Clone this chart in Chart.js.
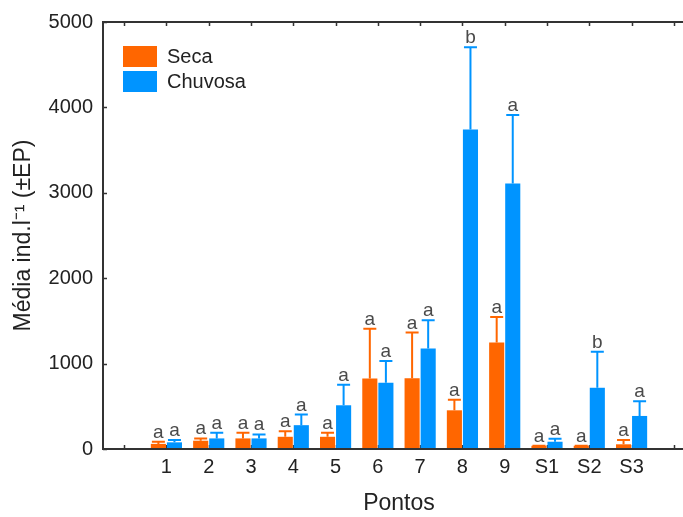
<!DOCTYPE html>
<html>
<head>
<meta charset="utf-8">
<script src="https://cdn.jsdelivr.net/npm/chart.js@4.4.1/dist/chart.umd.min.js"></script>
<style>
  html, body { margin: 0; padding: 0; background: #fff; overflow: hidden; }
  #wrap { width: 700px; height: 517px; }
</style>
</head>
<body>
<div id="wrap"><canvas id="pontos-chart"></canvas></div>
<script>
// sampling points (empty slots at both ends, as in the original plot)
const pontos = ['', '1', '2', '3', '4', '5', '6', '7', '8', '9', 'S1', 'S2', 'S3', ''];

// mean ind.l-1 per point
const secaMedia    = [null, 60, 97, 124, 143, 143, 826, 829, 453, 1248, 38, 38, 55, null];
const chuvosaMedia = [null, 78, 124, 124, 279, 512, 775, 1178, 3740, 3108, 85, 717, 387, null];

// standard error (upper bar only)
const secaEP    = [null, 25, 27, 66, 66, 47, 581, 535, 125, 299, 0, 0, 50, null];
const chuvosaEP = [null, 27, 66, 47, 124, 240, 256, 330, 965, 802, 35, 423, 171, null];

// significance letters
const secaLetras    = ['', 'a', 'a', 'a', 'a', 'a', 'a', 'a', 'a', 'a', 'a', 'a', 'a', ''];
const chuvosaLetras = ['', 'a', 'a', 'a', 'a', 'a', 'a', 'a', 'b', 'a', 'a', 'b', 'a', ''];

const yTicks = [0, 1000, 2000, 3000, 4000, 5000];

const ORANGE = '#ff6600';
const BLUE = '#0094ff';
const AXIS = '#333333';
const FONT = "'Liberation Sans', Arial, sans-serif";

const errors = [secaEP, chuvosaEP];
const letters = [secaLetras, chuvosaLetras];

// error bars + letters above each bar
const errorBarPlugin = {
  id: 'errorBars',
  afterDatasetsDraw(chart) {
    const ctx = chart.ctx;
    const yScale = chart.scales.y;
    ctx.save();
    chart.data.datasets.forEach(function (ds, i) {
      const meta = chart.getDatasetMeta(i);
      meta.data.forEach(function (bar, j) {
        const v = ds.data[j];
        if (v === null || v === undefined) return;
        const yTop = yScale.getPixelForValue(v + errors[i][j]);
        ctx.strokeStyle = ds.backgroundColor;
        ctx.lineWidth = 2;
        ctx.beginPath();
        ctx.moveTo(bar.x, bar.y);
        ctx.lineTo(bar.x, yTop);
        ctx.moveTo(bar.x - 6.5, yTop);
        ctx.lineTo(bar.x + 6.5, yTop);
        ctx.stroke();

        ctx.fillStyle = '#4a4a4a';
        ctx.font = '19px ' + FONT;
        ctx.textAlign = 'center';
        ctx.textBaseline = 'alphabetic';
        ctx.fillText(letters[i][j], bar.x, yTop - 4);
      });
    });
    ctx.restore();
  }
};

// box frame with inward tick marks
const framePlugin = {
  id: 'frame',
  beforeDatasetsDraw(chart) {
    const ctx = chart.ctx;
    const a = chart.chartArea;
    const x = chart.scales.x;
    const y = chart.scales.y;
    ctx.save();
    ctx.strokeStyle = AXIS;
    ctx.lineWidth = 1.5;
    ctx.beginPath();
    for (let i = 0; i < pontos.length; i++) {
      const px = Math.round(x.getPixelForTick(i)) + 0.5;
      ctx.moveTo(px, a.top);
      ctx.lineTo(px, a.top + 4);
      ctx.moveTo(px, a.bottom);
      ctx.lineTo(px, a.bottom - 4);
    }
    yTicks.forEach(function (t) {
      const py = Math.round(y.getPixelForValue(t)) + 0.5;
      ctx.moveTo(a.left, py);
      ctx.lineTo(a.left + 4, py);
    });
    ctx.stroke();
    ctx.restore();
  },
  afterDatasetsDraw(chart) {
    const ctx = chart.ctx;
    const a = chart.chartArea;
    ctx.save();
    ctx.strokeStyle = AXIS;
    ctx.lineWidth = 2;
    ctx.beginPath();
    ctx.moveTo(a.right, a.top);
    ctx.lineTo(a.left, a.top);
    ctx.lineTo(a.left, a.bottom);
    ctx.lineTo(a.right, a.bottom);
    ctx.stroke();
    ctx.restore();
  }
};

// legend drawn inside the plot, top left
const boxLegendPlugin = {
  id: 'boxLegend',
  afterDraw(chart) {
    const ctx = chart.ctx;
    const a = chart.chartArea;
    ctx.save();
    chart.data.datasets.forEach(function (ds, i) {
      const top = a.top + 24 + i * 25;
      ctx.fillStyle = ds.backgroundColor;
      ctx.fillRect(a.left + 20, top, 34, 21);
      ctx.fillStyle = '#222';
      ctx.font = '20px ' + FONT;
      ctx.textAlign = 'left';
      ctx.textBaseline = 'middle';
      ctx.fillText(ds.label, a.left + 64, top + 11);
    });
    ctx.restore();
  }
};

const ctx = document.getElementById('pontos-chart');
new Chart(ctx, {
  type: 'bar',
  data: {
    labels: pontos,
    datasets: [
      { label: 'Seca', data: secaMedia, backgroundColor: ORANGE },
      { label: 'Chuvosa', data: chuvosaMedia, backgroundColor: BLUE }
    ]
  },
  options: {
    responsive: true,
    maintainAspectRatio: false,
    animation: false,
    categoryPercentage: 0.76,
    barPercentage: 0.94,
    layout: { padding: { top: 19, right: 5, left: 0, bottom: 0 } },
    plugins: {
      legend: { display: false },
      tooltip: { enabled: false }
    },
    scales: {
      x: {
        grid: { display: false, drawTicks: false },
        border: { display: false },
        ticks: {
          color: '#222',
          font: { family: FONT, size: 20 },
          padding: 6,
          maxRotation: 0,
          autoSkip: false
        },
        title: {
          display: true,
          text: 'Pontos',
          color: '#222',
          font: { family: FONT, size: 23 },
          padding: 0
        },
        afterFit(scale) { scale.height = 68; }
      },
      y: {
        min: 0,
        max: 5000,
        grid: { display: false, drawTicks: false },
        border: { display: false },
        afterBuildTicks(scale) {
          scale.ticks = yTicks.map(v => ({ value: v }));
        },
        ticks: {
          color: '#222',
          font: { family: FONT, size: 20 },
          padding: 10,
          callback: v => String(v)
        },
        title: {
          display: true,
          text: 'Média ind.l⁻¹ (±EP)',
          color: '#222',
          font: { family: FONT, size: 23 },
          padding: { top: 10, bottom: 0 }
        },
        afterFit(scale) { scale.width = 103; }
      }
    }
  },
  plugins: [framePlugin, errorBarPlugin, boxLegendPlugin]
});
</script>
</body>
</html>
